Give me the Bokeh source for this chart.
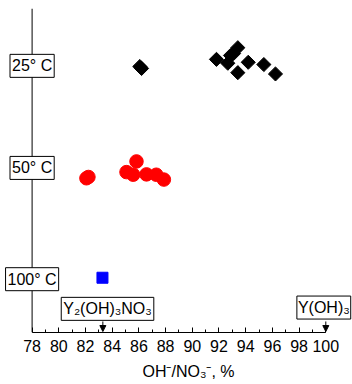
import numpy as np
from bokeh.plotting import figure
from bokeh.models import Label, Span, Arrow, NormalHead, SingleIntervalTicker, Range1d
from bokeh.embed import file_html
from bokeh.resources import INLINE

# 25 °C series (black diamonds)
x25 = [86.07, 86.2, 91.81, 92.66, 92.86, 93.09, 93.41, 94.19, 93.41, 95.36, 96.23]
y25 = [82.1, 81.5, 84.3, 83.1, 85.5, 86.1, 87.9, 83.4, 80.2, 82.7, 79.8]
# 50 °C series (red circles)
x50 = [82.07, 82.22, 85.82, 85.07, 85.57, 86.57, 87.30, 87.87]
y50 = [47.6, 48.0, 52.8, 49.5, 48.7, 48.8, 48.7, 47.2]
# 100 °C series (blue square)
x100 = [83.27]
y100 = [16.9]

temp_labels = ["25° C", "50° C", "100° C"]
temp_label_y = [82.3, 50.8, 16.45]
phase_labels = ["Y₂(OH)₃NO₃", "Y(OH)₃"]
phase_x = [83.3, 100.0]
phase_label_x = [83.65, 99.85]
phase_label_y = [7.3, 7.7]
x_title = "OH⁻/NO₃⁻, %"

FONT = "Liberation Sans"
PAD = dict(left=2, right=2, top=3, bottom=3)
PAD_PHASE = [dict(left=2, right=2, top=3, bottom=3), dict(left=1, right=1, top=3, bottom=3)]

p = figure(width=352, height=384, output_backend="svg", toolbar_location=None,
           x_range=Range1d(75.633, 102.0), y_range=Range1d(0, 100),
           y_axis_location=None, min_border_left=0, min_border_right=0,
           min_border_top=8, min_border_bottom=52)
p.outline_line_color = None
p.grid.visible = False
p.background_fill_color = "white"

xa = p.xaxis[0]
xa.ticker = SingleIntervalTicker(interval=2, num_minor_ticks=2)
xa.bounds = (78, 100)
xa.major_tick_in = 5
xa.major_tick_out = 0
xa.minor_tick_in = 3
xa.minor_tick_out = 0
xa.axis_line_color = "black"
xa.major_tick_line_color = "black"
xa.minor_tick_line_color = "black"
xa.major_label_text_font = FONT
xa.major_label_text_font_size = "16px"
xa.major_label_text_color = "black"
xa.major_label_standoff = 7
# en spaces shift the centred title right, to sit where the reference has it
xa.axis_label = "\u2002\u2002\u2002" + x_title
xa.axis_label_text_font = FONT
xa.axis_label_text_font_size = "16px"
xa.axis_label_text_font_style = "normal"
xa.axis_label_text_color = "black"
xa.axis_label_standoff = 8

p.add_layout(Span(location=78, dimension="height", line_color="black", line_width=1))

p.scatter(x25, y25, marker="square", angle=np.pi / 4, size=10, color="black")
p.scatter(x50, y50, marker="circle", size=13.5, color="red")
p.scatter(x100, y100, marker="square", size=11, color="blue")

for t, yy in zip(temp_labels, temp_label_y):
    p.add_layout(Label(x=78, y=yy, text=t, text_align="center", text_baseline="middle",
                       text_font=FONT, text_font_size="16px", text_color="black",
                       background_fill_color="white", border_line_color="black",
                       border_line_width=1, padding=PAD))

for t, lx, ly, ax, pad in zip(phase_labels, phase_label_x, phase_label_y, phase_x, PAD_PHASE):
    p.add_layout(Arrow(end=NormalHead(size=6, fill_color="black", line_color="black"),
                       x_start=ax, y_start=3.4, x_end=ax, y_end=0.3,
                       line_color="black", line_width=1))
    p.add_layout(Label(x=lx, y=ly, text=t, text_align="center", text_baseline="middle",
                       text_font=FONT, text_font_size="16px", text_color="black",
                       background_fill_color="white", border_line_color="black",
                       border_line_width=1, padding=pad))

open("out.html", "w").write(file_html(p, INLINE))
